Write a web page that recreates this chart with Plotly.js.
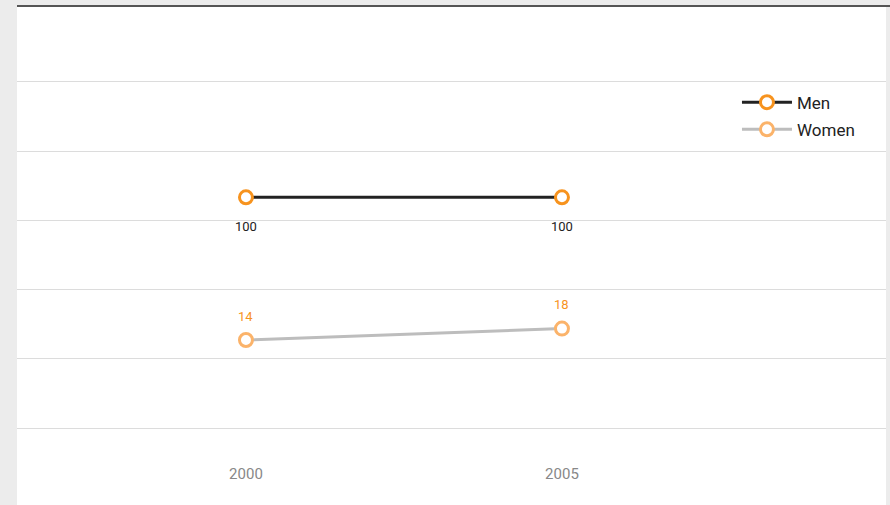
<!DOCTYPE html>
<html>
<head>
<meta charset="utf-8">
<script src="https://cdn.plot.ly/plotly-3.0.1.min.js"></script>
<style>
  html, body { margin: 0; padding: 0; background: #ececec; overflow: hidden; }
  #frame { position: absolute; left: 17px; top: 5px; width: 873px; border-top: 2px solid #555; }
  #chart { width: 869px; height: 498px; background: #fff; }
</style>
</head>
<body>
<div id="frame"><div id="chart"></div></div>
<script>
// Years on the x axis
const years = [2000, 2005];
// Series values
const men = [100, 100];
const women = [14, 18];
// Series names
const seriesNames = ['Men', 'Women'];

const orange = '#f7931e';
const lightOrange = '#fbb36a';

const traces = [
  {
    x: years, y: men, name: seriesNames[0], yaxis: 'y', legendgroup: 'g1',
    type: 'scatter', mode: 'lines+markers',
    line: { color: '#222222', width: 3 },
    marker: { size: 13, color: '#ffffff', line: { color: orange, width: 3 } },
    hoverinfo: 'x+y'
  },
  {
    x: years, y: women, name: seriesNames[1], yaxis: 'y2', legendgroup: 'g2',
    type: 'scatter', mode: 'lines+markers',
    line: { color: '#bdbdbd', width: 3 },
    marker: { size: 13, color: '#ffffff', line: { color: lightOrange, width: 3 } },
    hoverinfo: 'x+y'
  }
];

// Value labels placed from the same values as the marks
const annotations = [];
years.forEach((yr, i) => {
  annotations.push({
    x: yr, y: men[i], xref: 'x', yref: 'y', text: String(men[i]),
    showarrow: false, yshift: -29,
    font: { family: 'Roboto, sans-serif', size: 13, color: '#222222' }
  });
  annotations.push({
    x: yr, y: women[i], xref: 'x', yref: 'y2', text: String(women[i]),
    showarrow: false, yshift: 24,
    font: { family: 'Roboto, sans-serif', size: 13, color: orange }
  });
});

const layout = {
  width: 869, height: 498,
  margin: { l: 0, r: 0, t: 8, b: 73 },
  paper_bgcolor: '#ffffff',
  plot_bgcolor: '#ffffff',
  showlegend: true,
  legend: {
    x: 0.8285, y: 0.833, xanchor: 'left', yanchor: 'top',
    bgcolor: 'rgba(0,0,0,0)',
    font: { family: 'Roboto, sans-serif', size: 17, color: '#222222' },
    itemwidth: 50, traceorder: 'grouped', tracegroupgap: 2
  },
  xaxis: {
    range: [1996.377, 2010.127],
    tickvals: years, ticktext: years.map(String),
    showgrid: false, zeroline: false, showline: false,
    ticks: 'outside', ticklen: 28, tickcolor: 'rgba(0,0,0,0)',
    tickfont: { family: 'Roboto, sans-serif', size: 15, color: '#888888' },
    fixedrange: true
  },
  yaxis: {
    range: [-1.734, 179.04], dtick: 30, tick0: 0,
    showgrid: true, gridcolor: '#dcdcdc', gridwidth: 1,
    zeroline: false, showline: false, showticklabels: false, ticks: '',
    fixedrange: true
  },
  yaxis2: {
    overlaying: 'y', range: [-18.28, 128.04], visible: false, fixedrange: true
  },
  annotations: annotations
};

Plotly.newPlot('chart', traces, layout, { displayModeBar: false, staticPlot: true });
</script>
</body>
</html>
